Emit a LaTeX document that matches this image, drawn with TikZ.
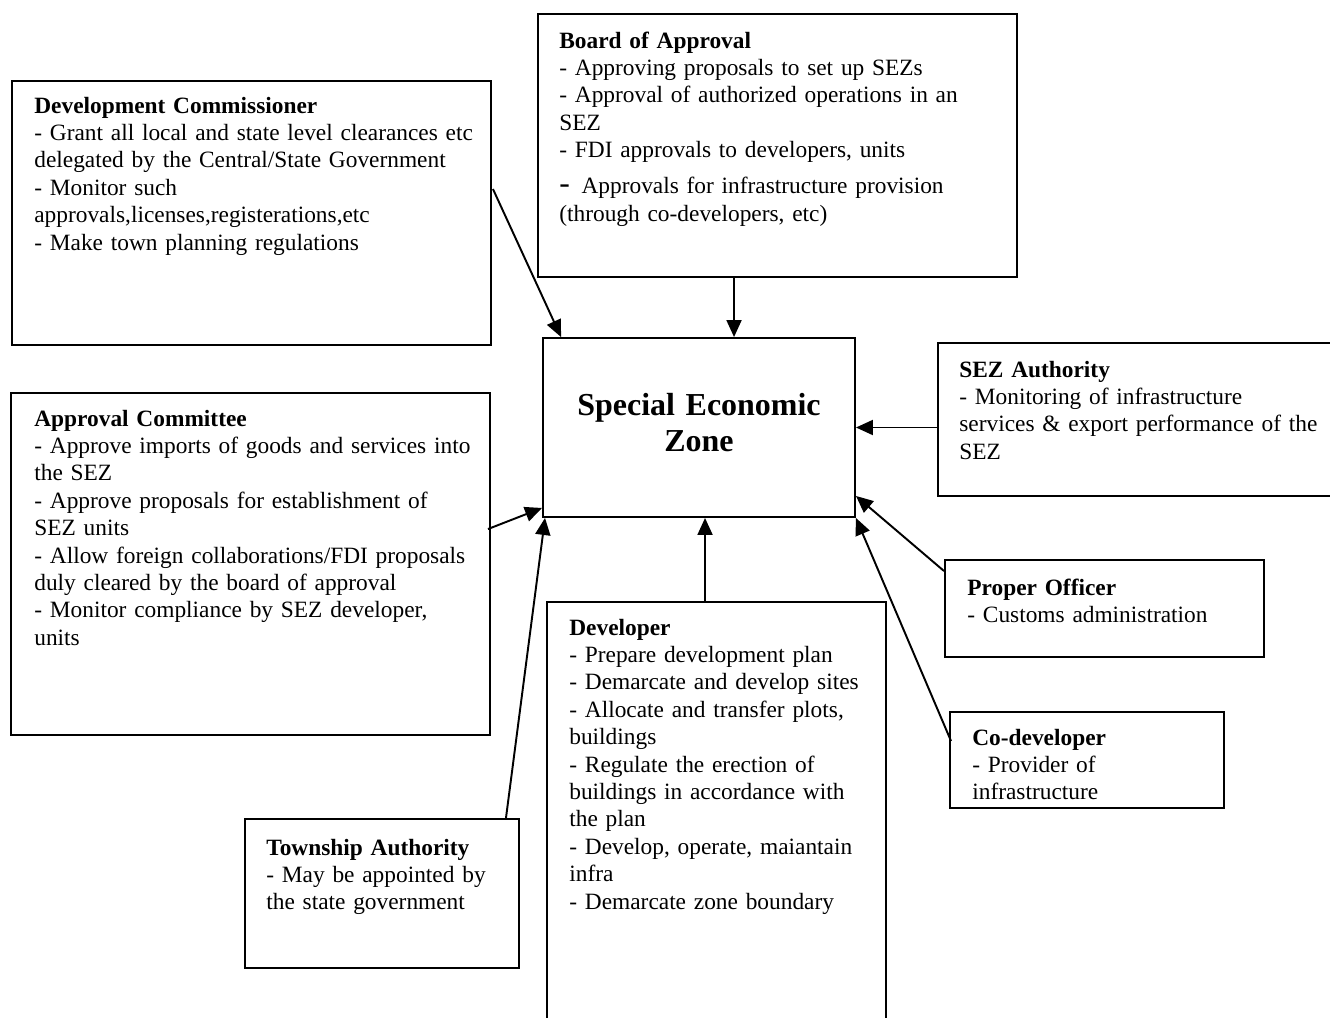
\documentclass[tikz,border=0pt]{standalone}
\usepackage{fontspec}
\setmainfont{Liberation Serif}
\usetikzlibrary{arrows.meta,calc,fit}

\tikzset{
  panel/.style={draw, line width=1.1pt, inner sep=0pt},
  paneltext/.style={anchor=base west, inner sep=0pt, align=left,
    text width=#1, font=\fontsize{13.3}{15.6}\selectfont},
  feed/.style={->, line width=1.1pt}
}

\begin{document}
\begin{tikzpicture}[x=0.02cm, y=-0.02cm, >={Triangle[length=0.34cm,width=0.3cm]}]

\useasboundingbox (0,0) rectangle (1330,1018);
\clip (0,0) rectangle (1330,1018);

% ---------- Special Economic Zone ----------
\node[panel, fit={(543,338) (855,517)}] (sez) {};
\node[anchor=base, align=center, text width=5.6cm,
  font=\bfseries\fontsize{18.2}{21}\selectfont] (sez-text) at (699,415)
  {Special Economic\\Zone};

% ---------- Board of Approval ----------
\node[panel, fit={(538,14) (1017,277)}] (boa) {};
\node[paneltext=9.08cm] (boa-text) at (559,48)
  {\textbf{Board of Approval}\\
   - Approving proposals to set up SEZs\\
   - Approval of authorized operations in an\\
   SEZ\\
   - FDI approvals to developers, units\\[5pt]
   {\fontsize{18}{15.6}\selectfont -}\, Approvals for infrastructure provision\\
   (through co-developers, etc)};

% ---------- Development Commissioner ----------
\node[panel, fit={(12,81) (491,345)}] (dc) {};
\node[paneltext=9.06cm] (dc-text) at (34,113)
  {\textbf{Development Commissioner}\\
   - Grant all local and state level clearances etc\\
   delegated by the Central/State Government\\
   - Monitor such\\
   approvals,licenses,registerations,etc\\
   - Make town planning regulations};

% ---------- SEZ Authority ----------
\node[panel, fit={(938,343) (1345,496)}] (seza) {};
\node[paneltext=7.4cm] (seza-text) at (959,377)
  {\textbf{SEZ Authority}\\
   - Monitoring of infrastructure\\
   services \& export performance of the\\
   SEZ};

% ---------- Approval Committee ----------
\node[panel, fit={(11,393) (490,735)}] (ac) {};
\node[paneltext=9.04cm] (ac-text) at (34,426)
  {\textbf{Approval Committee}\\
   - Approve imports of goods and services into\\
   the SEZ\\
   - Approve proposals for establishment of\\
   SEZ units\\
   - Allow foreign collaborations/FDI proposals\\
   duly cleared by the board of approval\\
   - Monitor compliance by SEZ developer,\\
   units};

% ---------- Proper Officer ----------
\node[panel, fit={(945,560) (1264,657)}] (po) {};
\node[paneltext=5.86cm] (po-text) at (967,595)
  {\textbf{Proper Officer}\\
   - Customs administration};

% ---------- Co-developer ----------
\node[panel, fit={(950,712) (1224,808)}] (cod) {};
\node[paneltext=4.96cm] (cod-text) at (972,745)
  {\textbf{Co-developer}\\
   - Provider of\\
   infrastructure};

% ---------- Township Authority ----------
\node[panel, fit={(245,819) (519,968)}] (town) {};
\node[paneltext=4.98cm] (town-text) at (266,855)
  {\textbf{Township Authority}\\
   - May be appointed by\\
   the state government};

% ---------- Developer ----------
\node[panel, fit={(547,602) (886,1040)}] (dev) {};
\node[paneltext=6.26cm] (dev-text) at (569,635)
  {\textbf{Developer}\\
   - Prepare development plan\\
   - Demarcate and develop sites\\
   - Allocate and transfer plots,\\
   buildings\\
   - Regulate the erection of\\
   buildings in accordance with\\
   the plan\\
   - Develop, operate, maiantain\\
   infra\\
   - Demarcate zone boundary};

% ---------- Connectors ----------
\coordinate (dc-out)   at ($(dc.north east)+(1,109)$);
\coordinate (sez-dc)   at ($(sez.north west)+(19,0)$);
\coordinate (boa-out)  at ($(boa.south west)+(197,0)$);
\coordinate (ac-out)   at ($(ac.north east)+(-3,137)$);
\coordinate (sez-ac)   at ($(sez.south west)+(0,-10)$);
\coordinate (town-out) at ($(town.north east)+(-14,0)$);
\coordinate (sez-town) at ($(sez.south west)+(3,0)$);
\coordinate (dev-out)  at ($(dev.north west)+(159,0)$);
\coordinate (po-out)   at ($(po.north west)+(0,12)$);
\coordinate (sez-po)   at ($(sez.south east)+(0,-22)$);
\coordinate (cod-out)  at ($(cod.north west)+(2,30)$);

\draw[feed] (dc-out) -- (sez-dc);
\draw[feed] (boa-out) -- (boa-out |- sez.north);
\draw[feed] (seza.west |- sez.east) -- (sez.east);
\draw[feed] (ac-out) -- (sez-ac);
\draw[feed] (town-out) -- (sez-town);
\draw[feed] (dev-out) -- (dev-out |- sez.south);
\draw[feed] (po-out) -- (sez-po);
\draw[feed] (cod-out) -- (sez.south east);

\end{tikzpicture}
\end{document}
